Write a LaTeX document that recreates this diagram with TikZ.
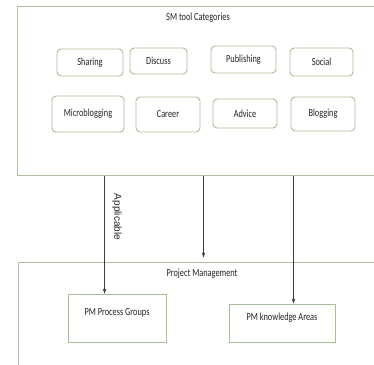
\documentclass[tikz,border=0pt]{standalone}
\usepackage{fontspec}
\usepackage{graphicx}
\setmainfont{Carlito}
\newfontfamily\arialfont{Liberation Sans}
\usetikzlibrary{arrows.meta,calc}
\definecolor{boxgreen}{RGB}{168,190,148}
\definecolor{outergreen}{RGB}{175,192,160}
\definecolor{txtgray}{RGB}{35,35,35}
\definecolor{linegray}{RGB}{60,60,60}
\newcommand\vst[1]{\scalebox{1}[1.3]{#1}}
\tikzset{
  cat/.style={draw=boxgreen, line width=0.9pt, rounded corners=4pt, fill=white,
    text=txtgray, font=\fontsize{8.3}{10}\selectfont, inner sep=0pt},
  outer/.style={draw=outergreen, line width=1pt, inner sep=0pt, fill=white},
  pmbox/.style={draw=boxgreen, line width=0.9pt, inner sep=0pt, fill=white},
  txt/.style={text=txtgray, font=\fontsize{8.3}{10}\selectfont, inner sep=0pt},
  conn/.style={draw=linegray, line width=0.7pt, -{Stealth[length=5pt,width=3.5pt]}},
}
\begin{document}
\begin{tikzpicture}[x=1pt,y=-1pt]
\useasboundingbox (0,0) rectangle (374,364);
\clip (0,0) rectangle (374,364);
\fill[white] (0,0) rectangle (374,364);
% outer boxes
\node[outer, minimum width=365, minimum height=169] (top) at (199.5,90.5) {};
\node[outer, minimum width=365, minimum height=115] (bot) at (200.5,319.5) {};
\node[txt] (toptitle) at (198,18) {\vst{SM tool Categories}};
\node[txt] (bottitle) at (202,274) {\vst{Project Management}};
% categories
\node[cat, minimum width=66, minimum height=27] (sharing) at (90,62.5) {\vst{Sharing}};
\node[cat, minimum width=57, minimum height=26] (discuss) at (158.5,61) {\vst{Discuss}};
\node[cat, minimum width=65, minimum height=27] (publishing) at (243.5,59.5) {\raisebox{2pt}{\vst{Publishing}}};
\node[cat, minimum width=63, minimum height=28] (social) at (321.5,62) {\vst{Social}};
\node[cat, minimum width=72, minimum height=36] (micro) at (88,114) {\raisebox{3pt}{\vst{Microblogging}}};
\node[cat, minimum width=64, minimum height=35] (career) at (168,114.5) {\raisebox{1pt}{\vst{Career}}};
\node[cat, minimum width=64, minimum height=29] (advice) at (245,113.5) {\vst{Advice}};
\node[cat, minimum width=64, minimum height=34] (blogging) at (323,114) {\raisebox{1pt}{\vst{Blogging}}};
% PM boxes
\node[pmbox, minimum width=98, minimum height=48] (pg) at (117,318) {};
\node[txt] (pgt) at (117,312.5) {\vst{PM Process Groups}};
\node[pmbox, minimum width=106, minimum height=38] (ka) at (282,323) {};
\node[txt] (kat) at (282,318) {\vst{PM knowledge Areas}};
% connectors
\coordinate (s1) at ($(top.south west)+(88,0)$);
\coordinate (s2) at ($(top.south west)+(187,0)$);
\coordinate (s3) at ($(top.south west)+(277,0)$);
\coordinate (e2) at ($(s2 |- bot.north)+(0,-4)$);
\draw[conn] (s1) -- (s1 |- pg.north);
\draw[conn] (s2) -- (e2);
\draw[conn] (s3) -- (s3 |- ka.north);
\node[text=txtgray, font=\arialfont\fontsize{10}{12}\selectfont, rotate=-90, inner sep=0pt] (appl) at (117,217) {Applicable};
\end{tikzpicture}
\end{document}
